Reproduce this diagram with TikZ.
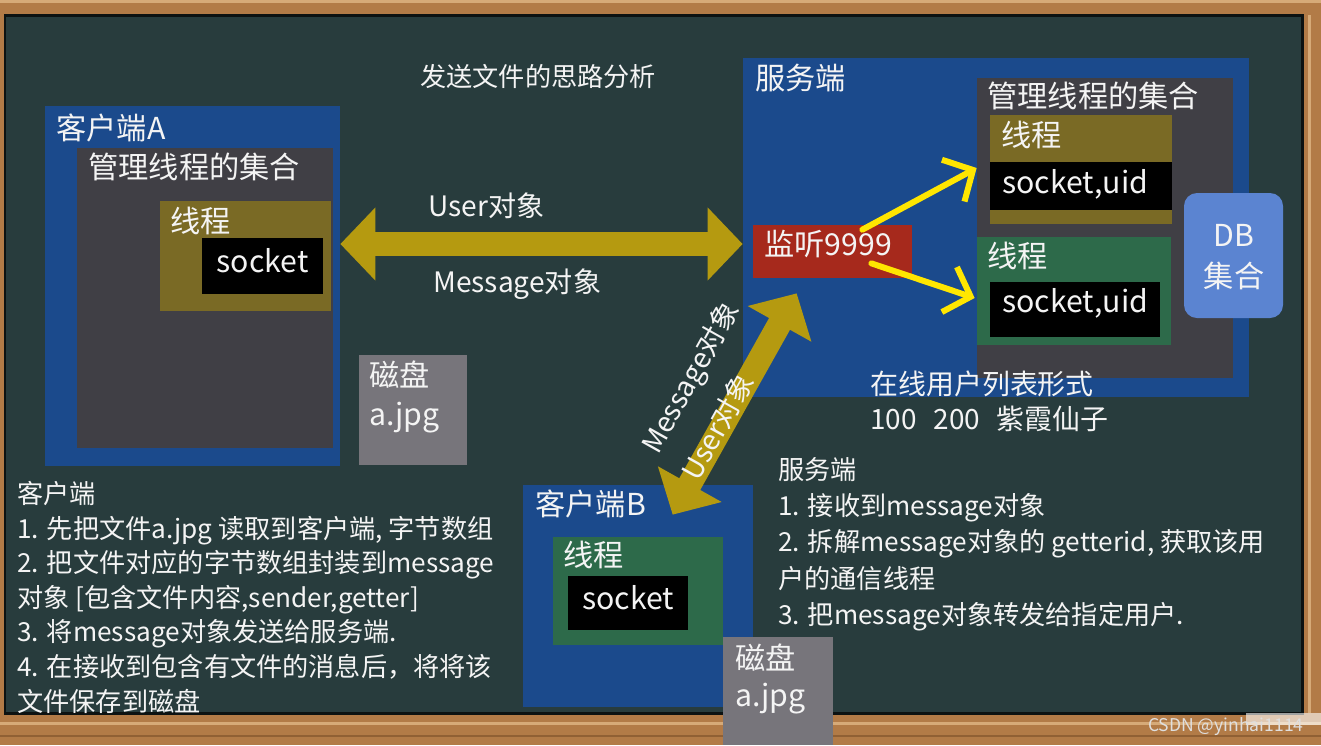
\documentclass[tikz,border=0pt]{standalone}
\usepackage{fontspec}
\setmainfont{Noto Sans CJK SC}
\usetikzlibrary{arrows.meta,positioning,calc,fit}
\definecolor{board}{HTML}{283C3D}
\definecolor{wood}{HTML}{B27B47}
\definecolor{woodlight}{HTML}{D6AA78}
\definecolor{wooddark}{HTML}{7A4E28}
\definecolor{chalk}{HTML}{F4F4F4}
\definecolor{boxblue}{HTML}{1B4A8C}
\definecolor{setgray}{HTML}{403F45}
\definecolor{olive}{HTML}{7A6A25}
\definecolor{thrgreen}{HTML}{2D6A4A}
\definecolor{diskgray}{HTML}{77757B}
\definecolor{listenred}{HTML}{A6291C}
\definecolor{dbblue}{HTML}{5B84D1}
\definecolor{gold}{HTML}{B59A10}
\definecolor{flash}{HTML}{FFE600}
\newcommand\bigtxt{\fontsize{17.2pt}{20pt}\selectfont}
\newcommand\midtxt{\fontsize{16pt}{19pt}\selectfont}
\newcommand\smalltxt{\fontsize{14.9pt}{19pt}\selectfont}
\newcommand\listtxt{\fontsize{15.9pt}{19pt}\selectfont}
\newcommand\marktxt{\fontsize{10pt}{12pt}\selectfont}
\tikzset{
  panel/.style={fill=#1,inner sep=0pt,draw=none},
  lbl/.style={anchor=west,inner sep=0pt,text=chalk,font=\bigtxt,text height=1.08em,text depth=0em},
  sock/.style={lbl,anchor=center,text height=.88em,text depth=.12em},
  note/.style={lbl,font=\smalltxt},
  diaglbl/.style={lbl,anchor=center,font=\midtxt,text height=.88em,text depth=.12em},
  goldarrow/.style={draw=gold,line width=0.48cm,{Triangle[width=1.42cm,length=0.7cm]}-{Triangle[width=1.42cm,length=0.7cm]}},
  flasharrow/.style={draw=flash,line width=0.12cm,line cap=round,-{Straight Barb[length=0.45cm,width=0.95cm]}},
}

\begin{document}
\begin{tikzpicture}[x=0.02cm,y=-0.02cm]
  \useasboundingbox (0,0) rectangle (1321,745);
  % frame and board
  \fill[wood] (0,0) rectangle (1321,745);
  \fill[woodlight] (0,0) rectangle (1321,3);
  \fill[woodlight] (0,722) rectangle (1321,725);
  \fill[wooddark!60!wood] (0,735) rectangle (1321,737);
  \fill[woodlight] (1308,15) rectangle (1311,713);
  \fill[board] (5,15) rectangle (1302,713);
  \draw[black!70!board,line width=0.06cm] (5,15) rectangle (1302,713);

  \node[note] (title) at (420,77) {发送文件的思路分析};

  % client A
  \node[panel=boxblue,fit={(45,106) (340,466)}] (cliA) {};
  \node[panel=setgray,fit={(77,148) (333,448)}] (setA) {};
  \node[panel=olive,fit={(160,201) (331,311)}] (thrA) {};
  \node[panel=black,fit={(202,238) (323,294)}] (sockA) {};
  \node[lbl] (cliAlbl) at (56,130) {客户端A};
  \node[lbl] (setAlbl) at (88,169) {管理线程的集合};
  \node[lbl] (thrAlbl) at (170,223) {线程};
  \node[sock] (sockAlbl) at (sockA.center) {socket};
  \node[panel=diskgray,fit={(359,355) (467,465)}] (diskA) {};
  \node[lbl] (diskAlbl) at (369,377) {磁盘};
  \node[lbl] (diskAfile) at (369,416) {a.jpg};

  % server
  \node[panel=boxblue,fit={(743,58) (1249,397)}] (srv) {};
  \node[lbl] (srvlbl) at (755,80) {服务端};
  \node[panel=setgray,fit={(977,78) (1233,378)}] (setS) {};
  \node[lbl] (setSlbl) at (987,98) {管理线程的集合};
  \node[panel=olive,fit={(990,115) (1172,224)}] (thrS1) {};
  \node[panel=black,fit={(990,162) (1172,210)}] (sockS1) {};
  \node[lbl] (thrS1lbl) at (1001,137) {线程};
  \node[lbl] (sockS1lbl) at (1002,184) {socket,uid};
  \node[panel=thrgreen,fit={(977,237) (1171,345)}] (thrS2) {};
  \node[panel=black,fit={(990,282) (1160,337)}] (sockS2) {};
  \node[lbl] (thrS2lbl) at (987,258) {线程};
  \node[lbl] (sockS2lbl) at (1002,303) {socket,uid};
  \node[panel=dbblue,rounded corners=0.26cm,fit={(1184,193) (1283,318)}] (db) {};
  \node[lbl,anchor=center] (dbtop) at (1234,237) {DB};
  \node[lbl,anchor=center] (dbbot) at (1234,278) {集合};
  \node[panel=listenred,fit={(753,225) (912,278)}] (lis) {};
  \node[lbl] (lislbl) at (764,246) {监听9999};
  \node[note,font=\listtxt] (online) at (870,385) {在线用户列表形式};
  \node[note,font=\listtxt] (users) at (870,420) {100\hspace{.6em}200\hspace{.6em}紫霞仙子};

  % client B
  \node[panel=boxblue,fit={(523,485) (753,707)}] (cliB) {};
  \node[lbl] (cliBlbl) at (535,506) {客户端B};
  \node[panel=thrgreen,fit={(553,537) (723,645)}] (thrB) {};
  \node[lbl] (thrBlbl) at (563,557) {线程};
  \node[panel=black,fit={(568,576) (688,630)}] (sockB) {};
  \node[sock] (sockBlbl) at (sockB.center) {socket};
  \node[panel=diskgray,fit={(723,637) (833,745)}] (diskB) {};
  \node[lbl] (diskBlbl) at (735,660) {磁盘};
  \node[lbl] (diskBfile) at (735,697) {a.jpg};

  % transfers
  \draw[goldarrow] (cliA.east |- 0,244) -- (srv.west |- 0,244);
  \node[lbl,font=\midtxt] (usrH) at (428,207) {User对象};
  \node[lbl,font=\midtxt] (msgH) at (433,283) {Message对象};
  \draw[goldarrow] ($(cliB.north west)+(150,30)$) -- ($(lis.south west)+(44,15)$)
    node[pos=.39,sloped,diaglbl] (usrD) {User对象}
    node[pos=.506,sloped,diaglbl,above=0.55cm] (msgD) {Message对象};
  \draw[flasharrow] ($(lis.north east)+(-50,5)$) -- ($(setS.west)+(0,-60)$);
  \draw[flasharrow] ($(lis.south east)+(-41,-15)$) -- ($(setS.west)+(-2,70)$);

  % steps
  \foreach \txt [count=\i from 0] in {{客户端},
      {1. 先把文件a.jpg 读取到客户端, 字节数组},
      {2. 把文件对应的字节数组封装到message},
      {对象 [包含文件内容,sender,getter]},
      {3. 将message对象发送给服务端.},
      {4. 在接收到包含有文件的消息后，将将该},
      {文件保存到磁盘}}
    \node[note] (cnote\i) at (17,494+34.6*\i) {\txt};
  \foreach \txt [count=\i from 0] in {{服务端},
      {1. 接收到message对象},
      {2. 拆解message对象的 getterid, 获取该用},
      {户的通信线程},
      {3. 把message对象转发给指定用户.}}
    \node[note] (snote\i) at (778,470+36.2*\i) {\txt};

  \fill[white,opacity=.6] (1246,713) rectangle (1321,725);
  \node[anchor=east,inner sep=0pt,text=white!75!gray,font=\marktxt] (mark) at (1304,727) {CSDN @yinhai1114};
\end{tikzpicture}
\end{document}
